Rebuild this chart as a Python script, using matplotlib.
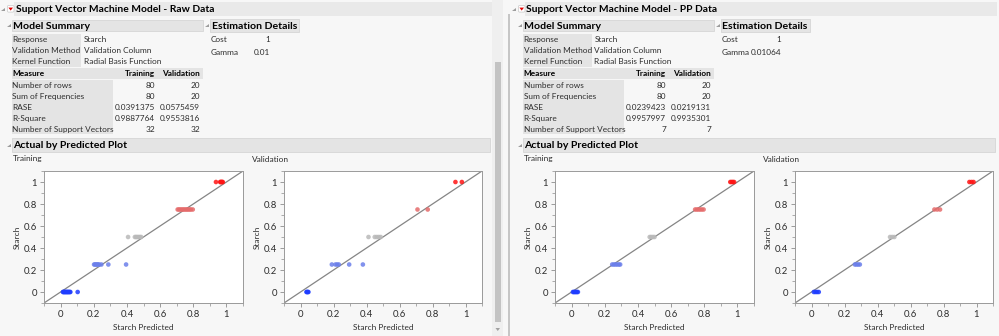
import matplotlib
matplotlib.use('agg')
from matplotlib import pyplot as plt
from matplotlib.patches import Rectangle, Polygon, FancyBboxPatch
from matplotlib.ticker import MultipleLocator, FuncFormatter
from matplotlib.textpath import TextPath
from matplotlib.font_manager import FontProperties

FONT = 'Lato'
plt.rcParams['font.family'] = [FONT, 'DejaVu Sans']

W, H = 999, 336
DPI = 100

# report tables
SUMMARY_KEYS = ['Response', 'Validation Method', 'Kernel Function']
SUMMARY_VALS = ['Starch', 'Validation Column', 'Radial Basis Function']
MEASURES = ['Number of rows', 'Sum of Frequencies', 'RASE', 'R-Square', 'Number of Support Vectors']
RAW_TRAINING = ['80', '80', '0.0391375', '0.9887764', '32']
RAW_VALIDATION = ['20', '20', '0.0575459', '0.9553816', '32']
PP_TRAINING = ['80', '80', '0.0239423', '0.9957997', '7']
PP_VALIDATION = ['20', '20', '0.0219131', '0.9935301', '7']
RAW_DETAILS = [('Cost', '1'), ('Gamma', '0.01')]
PP_DETAILS = [('Cost', '1'), ('Gamma', '0.01064')]

# actual by predicted points (Starch level vs. SVM prediction)
RAW_TRAIN_PRED = [0.014, 0.018, 0.022, 0.026, 0.030, 0.034, 0.038, 0.042, 0.046, 0.050, 0.055, 0.059, 0.103,
                  0.202, 0.208, 0.214, 0.220, 0.226, 0.232, 0.246, 0.288, 0.395,
                  0.407, 0.448, 0.455, 0.462, 0.470, 0.478, 0.486,
                  0.706, 0.714, 0.722, 0.730, 0.738, 0.746, 0.754, 0.762, 0.770, 0.778, 0.786, 0.797,
                  0.937, 0.962, 0.966, 0.970, 0.974, 0.978]
RAW_TRAIN_ACT = [0] * 13 + [0.25] * 9 + [0.5] * 7 + [0.75] * 12 + [1] * 6

RAW_VALID_PRED = [0.036, 0.040, 0.044, 0.048,
                  0.190, 0.212, 0.222, 0.232, 0.295, 0.378,
                  0.412, 0.450, 0.462, 0.474, 0.486,
                  0.709, 0.771,
                  0.939, 0.978]
RAW_VALID_ACT = [0] * 4 + [0.25] * 6 + [0.5] * 5 + [0.75] * 2 + [1] * 2

PP_TRAIN_PRED = [0.008, 0.014, 0.020, 0.026, 0.032, 0.038,
                 0.245, 0.255, 0.265, 0.275, 0.285, 0.293,
                 0.471, 0.480, 0.490, 0.500,
                 0.745, 0.755, 0.765, 0.775, 0.785, 0.796,
                 0.957, 0.965, 0.972, 0.980]
PP_TRAIN_ACT = [0] * 6 + [0.25] * 6 + [0.5] * 4 + [0.75] * 6 + [1] * 4

PP_VALID_PRED = [0.014, 0.024, 0.034, 0.044,
                 0.263, 0.273, 0.283, 0.293,
                 0.476, 0.489, 0.502,
                 0.745, 0.762, 0.779,
                 0.957, 0.970, 0.982]
PP_VALID_ACT = [0] * 4 + [0.25] * 4 + [0.5] * 3 + [0.75] * 3 + [1] * 3

LEVEL_COLORS = {0: '#1e3cff', 0.25: '#6b7fea', 0.5: '#b9b9b9', 0.75: '#e56b6b', 1: '#ff1414'}

BG = '#f7f7f7'
BOX = '#e4e4e4'
TXT = '#2c2c2c'


def fit_size(s, width_px, weight='normal'):
    # point size at which a string spans the given pixel width
    ext = TextPath((0, 0), s, size=10, prop=FontProperties(family=FONT, weight=weight)).get_extents()
    return 10 * width_px / (ext.width * DPI / 72)


BODY_FS = fit_size('Number of Support Vectors', 99)
HEAD_FS = fit_size('Actual by Predicted Plot', 113, 'bold')
TITLE_FS = fit_size('Support Vector Machine Model - Raw Data', 197, 'bold')
LABEL_FS = fit_size('Starch Predicted', 59)
TICK_FS = fit_size('0.8', 12.5)

fig = plt.figure(figsize=(W / DPI, H / DPI), dpi=DPI, facecolor=BG)
bg = fig.add_axes([0, 0, 1, 1])
bg.set_xlim(0, W)
bg.set_ylim(H, 0)
bg.axis('off')


def rect(x0, y0, x1, y1, fc, ec='none', lw=0.6):
    bg.add_patch(Rectangle((x0, y0), x1 - x0, y1 - y0, fc=fc, ec=ec, lw=lw))


def twisty(x, y):
    bg.add_patch(Polygon([(x, y + 2), (x + 3.5, y + 2), (x + 3.5, y - 1.5)], closed=True,
                         fc='#9c9c9c', ec='none'))


def red_menu(x, y):
    bg.add_patch(FancyBboxPatch((x - 3, y - 3), 6, 6, boxstyle='round,pad=0.3,rounding_size=1.2',
                                fc='white', ec='#c8c8c8', lw=0.5))
    bg.add_patch(Polygon([(x - 2.3, y - 1.2), (x + 2.3, y - 1.2), (x, y + 1.8)], closed=True,
                         fc='#e00000', ec='none'))


def header(x0, x1, y0, y1, label, tx):
    rect(x0, y0, x1, y1, BOX, '#d6d6d6')
    bg.text(tx, (y0 + y1) / 2, label, fontsize=HEAD_FS, fontweight='bold', color='black',
            va='center_baseline', ha='left')


def txt(x, y, s, ha='left', bold=False):
    bg.text(x, y, s, fontsize=BODY_FS, color=TXT if not bold else 'black',
            fontweight='bold' if bold else 'normal', va='center_baseline', ha=ha)


def fmt(v, pos):
    return '%g' % round(v, 1)


def scatter_plot(x0, y0, x1, y1, pred, act):
    ax = fig.add_axes([x0 / W, 1 - y1 / H, (x1 - x0) / W, (y1 - y0) / H])
    ax.set_facecolor('white')
    ax.set_xlim(-0.1, 1.1)
    ax.set_ylim(-0.1, 1.1)
    ax.plot([-0.1, 1.1], [-0.1, 1.1], color='#858585', lw=0.9, zorder=1)
    ax.scatter(pred, act, s=11, c=[LEVEL_COLORS[a] for a in act], alpha=0.85,
               linewidths=0, zorder=2)
    for axis in (ax.xaxis, ax.yaxis):
        axis.set_major_locator(MultipleLocator(0.2))
        axis.set_minor_locator(MultipleLocator(0.1))
        axis.set_major_formatter(FuncFormatter(fmt))
    ax.tick_params(which='major', length=3, width=0.6, color='#8c8c8c', labelsize=TICK_FS,
                   labelcolor=TXT, pad=2)
    ax.tick_params(which='minor', length=2, width=0.5, color='#8c8c8c')
    for sp in ax.spines.values():
        sp.set_color('#9a9a9a')
        sp.set_linewidth(0.7)
    ax.set_xlabel('Starch Predicted', fontsize=LABEL_FS, color=TXT)
    ax.set_ylabel('Starch', fontsize=LABEL_FS, color=TXT)
    ax.xaxis.set_label_coords(0.5, -(324 - y1) / (y1 - y0))
    ax.yaxis.set_label_coords(-23 / (x1 - x0), 0.5)
    return ax


def draw_panel(dx, title, training, validation, details, plots):
    right = dx + 492 if dx == 0 else 997
    # outline title bar
    twisty(dx + 1, 9)
    rect(dx + 14, 1.5, right, 16, '#e9e9e9')
    red_menu(dx + 10.7, 8.8)
    bg.text(dx + 15.5, 9, title, fontsize=TITLE_FS, fontweight='bold', color='black',
            va='center_baseline')

    # model summary
    twisty(dx + 7, 25)
    header(dx + 12, dx + 203, 19.5, 31, 'Model Summary', dx + 13)
    rect(dx + 12, 34, dx + 81, 66.5, BOX)
    for i, (k, v) in enumerate(zip(SUMMARY_KEYS, SUMMARY_VALS)):
        y = 39.3 + i * 11
        txt(dx + 12.5, y, k)
        txt(dx + 83.5, y, v)

    rect(dx + 12, 68, dx + 203, 78.5, BOX)
    txt(dx + 12.5, 73, 'Measure', bold=True)
    txt(dx + 155, 73, 'Training', ha='right', bold=True)
    txt(dx + 200, 73, 'Validation', ha='right', bold=True)
    rect(dx + 12, 79.5, dx + 113, 134, BOX)
    for i, (m, t, v) in enumerate(zip(MEASURES, training, validation)):
        y = 85.3 + i * 11
        txt(dx + 12.5, y, m)
        txt(dx + 155, y, t, ha='right')
        txt(dx + 200, y, v, ha='right')

    # estimation details
    twisty(dx + 205, 25)
    header(dx + 210, dx + 299, 19, 31.5, 'Estimation Details', dx + 211.5)
    for i, (k, v) in enumerate(details):
        y = 39.3 + i * 12.3
        txt(dx + 211, y, k)
        txt(dx + 270, y, v, ha='right')

    # actual by predicted
    twisty(dx + 7, 145)
    header(dx + 12, right - 2, 137.5, 151.5, 'Actual by Predicted Plot', dx + 13)
    txt(dx + 12.5, 158.5, 'Training')
    txt(dx + 252, 158.5, 'Validation')

    (tp, ta), (vp, va) = plots
    scatter_plot(dx + 44, 171, dx + 243, 303, tp, ta)
    scatter_plot(dx + 284, 171, dx + 482, 303, vp, va)


draw_panel(0, 'Support Vector Machine Model - Raw Data', RAW_TRAINING, RAW_VALIDATION, RAW_DETAILS,
           [(RAW_TRAIN_PRED, RAW_TRAIN_ACT), (RAW_VALID_PRED, RAW_VALID_ACT)])
draw_panel(511, 'Support Vector Machine Model - PP Data', PP_TRAINING, PP_VALIDATION, PP_DETAILS,
           [(PP_TRAIN_PRED, PP_TRAIN_ACT), (PP_VALID_PRED, PP_VALID_ACT)])

# scrollbar of the left report and border of the right one
rect(492, 0, 503, H, '#efefef')
rect(494.5, 62, 501, 322, '#c3c3c3')
bg.add_patch(Polygon([(495.5, 328), (500, 328), (497.75, 331)], closed=True, fc='#a0a0a0', ec='none'))
rect(507.5, 14, 509.5, H, '#c6c6c6')

fig.savefig('out.png', dpi=DPI, facecolor=BG)
